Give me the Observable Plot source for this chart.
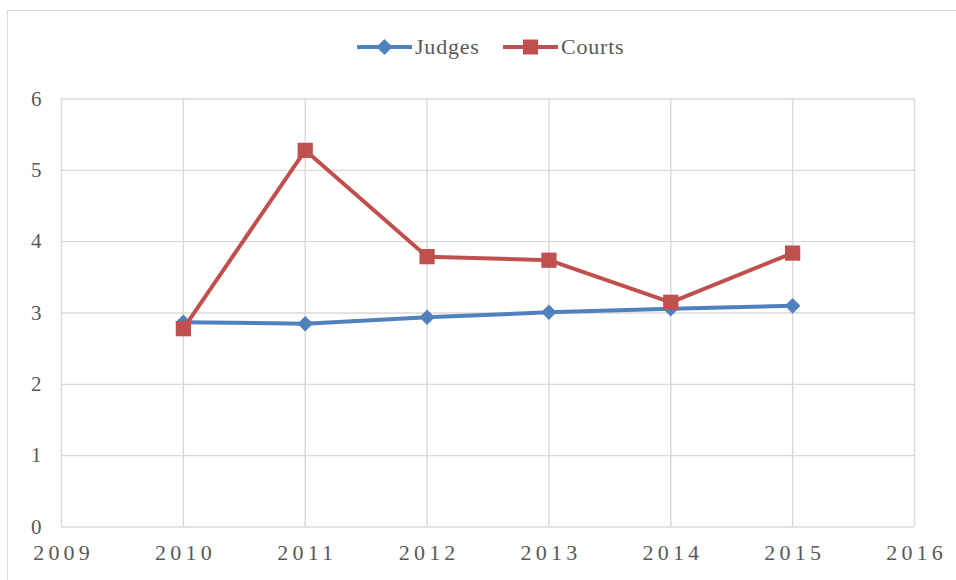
<!DOCTYPE html>
<html>
<head>
<meta charset="utf-8">
<script src="https://cdn.jsdelivr.net/npm/d3@7"></script>
<script src="https://cdn.jsdelivr.net/npm/@observablehq/plot@0.6"></script>
<style>
  html, body { margin: 0; padding: 0; background: #fff; }
  #wrap { position: relative; width: 956px; height: 580px; overflow: hidden; font-family: "Liberation Serif", "Times New Roman", serif; }
  #frame { position: absolute; left: 7px; top: 10px; width: 980px; height: 600px; border: 1.3px solid #d9d9d9; box-sizing: border-box; }
  #legend { position: absolute; top: 33px; left: 0; width: 956px; height: 28px; }
  #legend .item { position: absolute; top: 0; display: flex; align-items: center; font-size: 22px; letter-spacing: 0.8px; color: #595959; font-family: "Liberation Serif", serif; }
  #chart { position: absolute; left: 0; top: 0; }
  #chart svg, #chart svg text { font-family: "Liberation Serif", "Times New Roman", serif !important; }
  #chart g[aria-label="x-axis tick label"] text { letter-spacing: 4.2px; }
  #chart g[aria-label="y-axis tick label"] text { letter-spacing: 0px; }
</style>
</head>
<body>
<div id="wrap">
  <div id="frame"></div>
  <div id="chart"></div>
  <div id="legend"></div>
</div>
<script>
// ---- data ----
const years = [2010, 2011, 2012, 2013, 2014, 2015];
const judges = [2.87, 2.85, 2.94, 3.01, 3.06, 3.10];
const courts = [2.78, 5.28, 3.79, 3.74, 3.15, 3.84];
const xTicks = [2009, 2010, 2011, 2012, 2013, 2014, 2015, 2016];
const yTicks = [0, 1, 2, 3, 4, 5, 6];
const seriesNames = ["Judges", "Courts"];
const seriesColors = ["#4f81bd", "#c0504d"];

const judgesData = years.map((y, i) => ({year: y, value: judges[i]}));
const courtsData = years.map((y, i) => ({year: y, value: courts[i]}));

// Excel-style diamond (rotated square)
const diamond = {
  draw(context, size) {
    const r = Math.sqrt(size / 2);
    context.moveTo(0, -r);
    context.lineTo(r, 0);
    context.lineTo(0, r);
    context.lineTo(-r, 0);
    context.closePath();
  }
};

const gridColor = "#d9d9d9";
const textColor = "#595959";
const serif = "'Liberation Serif', 'Times New Roman', serif";

const chart = Plot.plot({
  width: 956,
  height: 580,
  marginLeft: 61,
  marginRight: 42,
  marginTop: 98.5,
  marginBottom: 53.5,
  style: { fontFamily: serif, color: textColor, background: "transparent" },
  x: { domain: [2009, 2016], label: null },
  y: { domain: [0, 6], label: null },
  marks: [
    Plot.gridX(xTicks, { stroke: gridColor, strokeOpacity: 1, strokeWidth: 1.4 }),
    Plot.gridY(yTicks, { stroke: gridColor, strokeOpacity: 1, strokeWidth: 1.4 }),
    Plot.axisX(xTicks, { tickSize: 0, tickPadding: 17, fontSize: 22, fontFamily: serif, fill: textColor, tickFormat: d => String(d), dx: 2.1, label: null }),
    Plot.axisY(yTicks, { tickSize: 0, tickPadding: 20, fontSize: 21, fontFamily: serif, fill: textColor, tickFormat: d => String(d), label: null }),
    Plot.lineY(judgesData, { x: "year", y: "value", stroke: seriesColors[0], strokeWidth: 4 }),
    Plot.dot(judgesData, { x: "year", y: "value", symbol: diamond, r: 6.2, fill: seriesColors[0], stroke: "none" }),
    Plot.lineY(courtsData, { x: "year", y: "value", stroke: seriesColors[1], strokeWidth: 4 }),
    Plot.dot(courtsData, { x: "year", y: "value", symbol: "square", r: 8.6, fill: seriesColors[1], stroke: "none" })
  ]
});
document.getElementById("chart").appendChild(chart);

// ---- legend ----
const legend = document.getElementById("legend");
const legendLeft = [357, 503];
seriesNames.forEach((name, i) => {
  const item = document.createElement("div");
  item.className = "item";
  item.style.left = legendLeft[i] + "px";
  const marker = i === 0
    ? `<path d="M27.5,6 L35.5,14 L27.5,22 L19.5,14 Z" fill="${seriesColors[i]}"/>`
    : `<rect x="20" y="6.5" width="15" height="15" fill="${seriesColors[i]}"/>`;
  item.innerHTML = `<svg width="57" height="28" style="display:block"><line x1="0" x2="55" y1="14" y2="14" stroke="${seriesColors[i]}" stroke-width="4"/>${marker}</svg><span style="margin-left:1px;line-height:28px">${name}</span>`;
  legend.appendChild(item);
});
</script>
</body>
</html>
